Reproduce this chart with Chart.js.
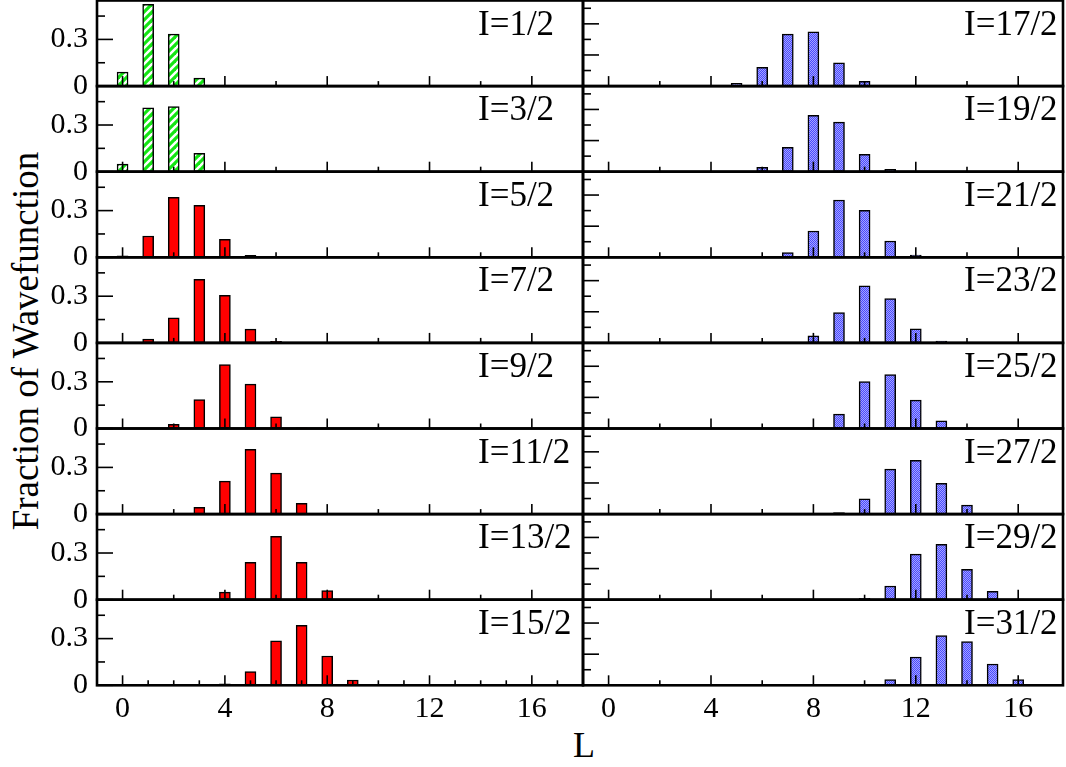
<!DOCTYPE html>
<html>
<head>
<meta charset="utf-8">
<script src="https://cdn.jsdelivr.net/npm/chart.js@4.4.1/dist/chart.umd.min.js"></script>
<style>
    body { margin: 0; background: #fff; }
    #wrap { position: relative; width: 1066px; height: 767px; overflow: hidden; background: #fff; font-family: "Liberation Serif", serif; color: #000; }
    #wrap canvas { position: absolute; }
    .ytitle { position: absolute; left: 25px; top: 341px; transform: translate(-50%, -50%) rotate(-90deg); font-size: 37px; line-height: 37px; white-space: nowrap; }
    .xtitle { position: absolute; left: 584px; top: 727px; transform: translateX(-50%); font-size: 36px; line-height: 36px; }
</style>
</head>
<body>
<div id="wrap">
    <div class="ytitle">Fraction of Wavefunction</div>
    <div class="xtitle">L</div>
</div>
<script>
// tick labels
const xTickLabels = [0, 4, 8, 12, 16];
const yTickLabels = [0, 0.3];

// fraction of wavefunction, index = L (0, 1, 2, ...)
const frac_1_2  = [0.09, 0.525, 0.334, 0.051, 0.003];
const frac_3_2  = [0.049, 0.411, 0.418, 0.118, 0.003];
const frac_5_2  = [0.01, 0.137, 0.386, 0.334, 0.116, 0.013];
const frac_7_2  = [0, 0.024, 0.161, 0.409, 0.306, 0.088, 0.01];
const frac_9_2  = [0, 0, 0.026, 0.186, 0.411, 0.285, 0.075, 0.004];
const frac_11_2 = [0, 0, 0.002, 0.043, 0.212, 0.416, 0.263, 0.069, 0.005];
const frac_13_2 = [0.003, 0, 0, 0.002, 0.049, 0.24, 0.407, 0.24, 0.058];
const frac_15_2 = [0, 0, 0, 0, 0.01, 0.088, 0.285, 0.386, 0.188, 0.034];
const frac_17_2 = [0, 0, 0, 0, 0, 0.017, 0.12, 0.334, 0.349, 0.15, 0.03, 0.003];
const frac_19_2 = [0, 0, 0, 0, 0, 0, 0.028, 0.156, 0.362, 0.319, 0.111, 0.015];
const frac_21_2 = [0, 0, 0, 0, 0, 0, 0, 0.03, 0.169, 0.368, 0.302, 0.105, 0.015];
const frac_23_2 = [0, 0, 0, 0, 0, 0, 0, 0.002, 0.045, 0.195, 0.366, 0.285, 0.09, 0.011];
const frac_25_2 = [0, 0, 0, 0, 0, 0, 0, 0, 0.004, 0.092, 0.302, 0.347, 0.182, 0.049, 0.004];
const frac_27_2 = [0, 0, 0, 0, 0, 0, 0, 0, 0, 0.01, 0.098, 0.289, 0.345, 0.197, 0.058, 0.005];
const frac_29_2 = [0, 0, 0, 0, 0, 0, 0, 0, 0, 0, 0.008, 0.088, 0.293, 0.356, 0.195, 0.054, 0.004];
const frac_31_2 = [0, 0, 0, 0, 0, 0, 0, 0, 0, 0, 0, 0.036, 0.182, 0.319, 0.281, 0.137, 0.036, 0.003];

const leftPanels  = [['I=1/2', frac_1_2], ['I=3/2', frac_3_2], ['I=5/2', frac_5_2], ['I=7/2', frac_7_2],
                     ['I=9/2', frac_9_2], ['I=11/2', frac_11_2], ['I=13/2', frac_13_2], ['I=15/2', frac_15_2]];
const rightPanels = [['I=17/2', frac_17_2], ['I=19/2', frac_19_2], ['I=21/2', frac_21_2], ['I=23/2', frac_23_2],
                     ['I=25/2', frac_25_2], ['I=27/2', frac_27_2], ['I=29/2', frac_29_2], ['I=31/2', frac_31_2]];

const FONT = '"Liberation Serif", serif';
const PANEL_TOP = 0.5;
const PANEL_H = 85.6;
const MARGIN = 20;

// fill patterns
function greenHatch() {
    const c = document.createElement('canvas');
    c.width = 8; c.height = 8;
    const g = c.getContext('2d');
    g.fillStyle = '#fff';
    g.fillRect(0, 0, 8, 8);
    g.strokeStyle = '#14e614';
    g.lineWidth = 3.2;
    [[-4, 4, 4, -4], [0, 8, 8, 0], [4, 12, 12, 4]].forEach(([a, b, cc, d]) => {
        g.beginPath(); g.moveTo(a, b); g.lineTo(cc, d); g.stroke();
    });
    return g.createPattern(c, 'repeat');
}

function blueDots() {
    const c = document.createElement('canvas');
    c.width = 2; c.height = 2;
    const g = c.getContext('2d');
    g.fillStyle = '#4a4aff';
    g.fillRect(0, 0, 2, 2);
    g.fillStyle = '#a4a4ff';
    g.fillRect(1, 0, 1, 1);
    g.fillRect(0, 1, 1, 1);
    return g.createPattern(c, 'repeat');
}

function noPad(s) {
    s.paddingLeft = 0; s.paddingRight = 0; s.paddingTop = 0; s.paddingBottom = 0;
}

// frame, inward ticks and panel label
const panelFrame = {
    id: 'panelFrame',
    afterDatasetsDraw(chart, args, opts) {
        const { ctx, chartArea: a } = chart;
        const x = chart.scales.x, y = chart.scales.y;
        ctx.save();
        ctx.strokeStyle = '#000';
        ctx.lineWidth = 1.6;
        const seg = (x0, y0, x1, y1) => { ctx.beginPath(); ctx.moveTo(x0, y0); ctx.lineTo(x1, y1); ctx.stroke(); };
        opts.yMajor.forEach(v => { const p = y.getPixelForValue(v); seg(a.left, p, a.left + 16, p); });
        opts.yMinor.forEach(v => { const p = y.getPixelForValue(v); seg(a.left, p, a.left + 8, p); });
        xTickLabels.forEach(v => { const p = x.getPixelForValue(v); seg(p, a.bottom, p, a.bottom - 10); });
        opts.xMinor.forEach(v => { const p = x.getPixelForValue(v); seg(p, a.bottom, p, a.bottom - 5); });
        ctx.lineWidth = 2.6;
        ctx.strokeRect(a.left, a.top, a.right - a.left, a.bottom - a.top);
        ctx.fillStyle = '#000';
        ctx.font = '35px ' + FONT;
        ctx.textBaseline = 'alphabetic';
        ctx.textAlign = 'left';
        ctx.fillText(opts.text, a.left + 381, a.top + 34);
        ctx.restore();
    }
};

function makePanel(col, row, label, values) {
    const isLeft = col === 0;
    const isBottom = row === 7;
    const panelTop = PANEL_TOP + row * PANEL_H;
    const canvasTop = Math.floor(panelTop) - MARGIN;
    const canvasLeft = isLeft ? 0 : 573;
    const width = isLeft ? 600 : 493;
    const xAxisH = isBottom ? 46 : 0;
    const padTop = panelTop - canvasTop;
    const height = Math.ceil(padTop + PANEL_H + xAxisH) + MARGIN;
    const padBottom = height - padTop - PANEL_H - xAxisH;

    const canvas = document.createElement('canvas');
    canvas.width = width;
    canvas.height = height;
    canvas.style.left = canvasLeft + 'px';
    canvas.style.top = canvasTop + 'px';
    canvas.style.width = width + 'px';
    canvas.style.height = height + 'px';
    document.getElementById('wrap').appendChild(canvas);

    const points = values.map((v, L) => ({ x: L, y: v })).filter(p => p.y > 0);
    let fill = '#ff0000';
    if (!isLeft) fill = blueDots();
    else if (row < 2) fill = greenHatch();

    let xMinor = [2, 6, 10, 14];
    if (isLeft && isBottom) xMinor = [1, 2, 3, 5, 6, 7, 9, 10, 11, 13, 14, 15, 17];

    new Chart(canvas, {
        type: 'bar',
        data: {
            datasets: [{
                data: points,
                backgroundColor: fill,
                borderColor: '#000',
                borderWidth: 1.5,
                borderSkipped: false,
                barThickness: 11
            }]
        },
        plugins: [panelFrame],
        options: {
            responsive: false,
            animation: false,
            events: [],
            layout: {
                padding: { top: padTop, bottom: padBottom, left: isLeft ? 0 : 10, right: isLeft ? 17 : 3 }
            },
            scales: {
                x: {
                    type: 'linear',
                    min: -1,
                    max: isLeft ? 18 : 17.75,
                    offset: false,
                    display: isBottom,
                    grid: { display: false, drawTicks: false },
                    border: { display: false },
                    afterBuildTicks: s => { s.ticks = xTickLabels.map(v => ({ value: v })); },
                    afterFit: s => { if (isBottom) s.height = xAxisH; noPad(s); },
                    ticks: { color: '#000', font: { family: FONT, size: 30 }, padding: 6, maxRotation: 0 }
                },
                y: {
                    min: 0,
                    max: 0.55,
                    display: isLeft,
                    grid: { display: false, drawTicks: false },
                    border: { display: false },
                    afterBuildTicks: s => { s.ticks = yTickLabels.map(v => ({ value: v })); },
                    afterFit: s => { if (isLeft) s.width = 97; noPad(s); },
                    ticks: { color: '#000', font: { family: FONT, size: 30 }, padding: 9 }
                }
            },
            plugins: {
                legend: { display: false },
                tooltip: { enabled: false },
                panelFrame: {
                    text: label,
                    yMajor: isLeft ? [0, 0.3] : [0.2, 0.4],
                    yMinor: isLeft ? [0.15, 0.45] : [0.1, 0.3, 0.5],
                    xMinor: xMinor
                }
            }
        }
    });
}

leftPanels.forEach(([label, values], row) => makePanel(0, row, label, values));
rightPanels.forEach(([label, values], row) => makePanel(1, row, label, values));
</script>
</body>
</html>
